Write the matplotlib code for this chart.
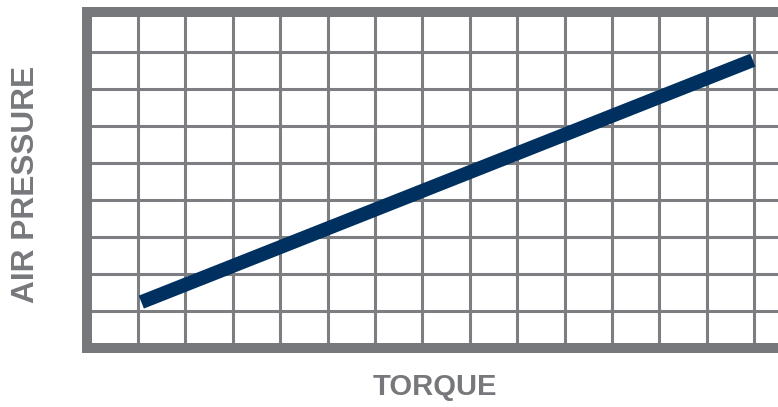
import matplotlib.pyplot as plt
import numpy as np

# torque vs air pressure (grid units)
torque = [1.07, 13.97]
air_pressure = [1.24, 7.78]

x_grid = list(range(1, 15))
y_grid = list(range(1, 9))

grey = '#77787b'
navy = '#00305f'

W, H = 778, 407
fig = plt.figure(figsize=(W / 100, H / 100), dpi=100)
ax = fig.add_axes([87 / W, (H - 348) / H, (W - 87) / W, 336 / H])

ax.set_xlim(-0.076, 14.5)
ax.set_ylim(0, 9.08)
ax.set_xticks(x_grid)
ax.set_yticks(y_grid)
ax.tick_params(length=0, labelbottom=False, labelleft=False)
ax.grid(True, color='#7d7e82', linewidth=2.2)
ax.set_axisbelow(True)

for side in ['left', 'top', 'bottom']:
    ax.spines[side].set_color(grey)
    ax.spines[side].set_linewidth(7.2)
ax.spines['right'].set_visible(False)

ax.plot(torque, air_pressure, color=navy, linewidth=10, solid_capstyle='butt')

fig.text(26 / W, 1 - 184 / H, 'AIR PRESSURE', rotation=90, ha='center', va='center',
         fontsize=22.8, fontweight='bold', color=grey, family='Liberation Sans')
fig.text(435 / W, 1 - 395 / H, 'TORQUE', ha='center', va='baseline',
         fontsize=21, fontweight='bold', color=grey, family='Liberation Sans')

fig.savefig('out.png', dpi=100)
